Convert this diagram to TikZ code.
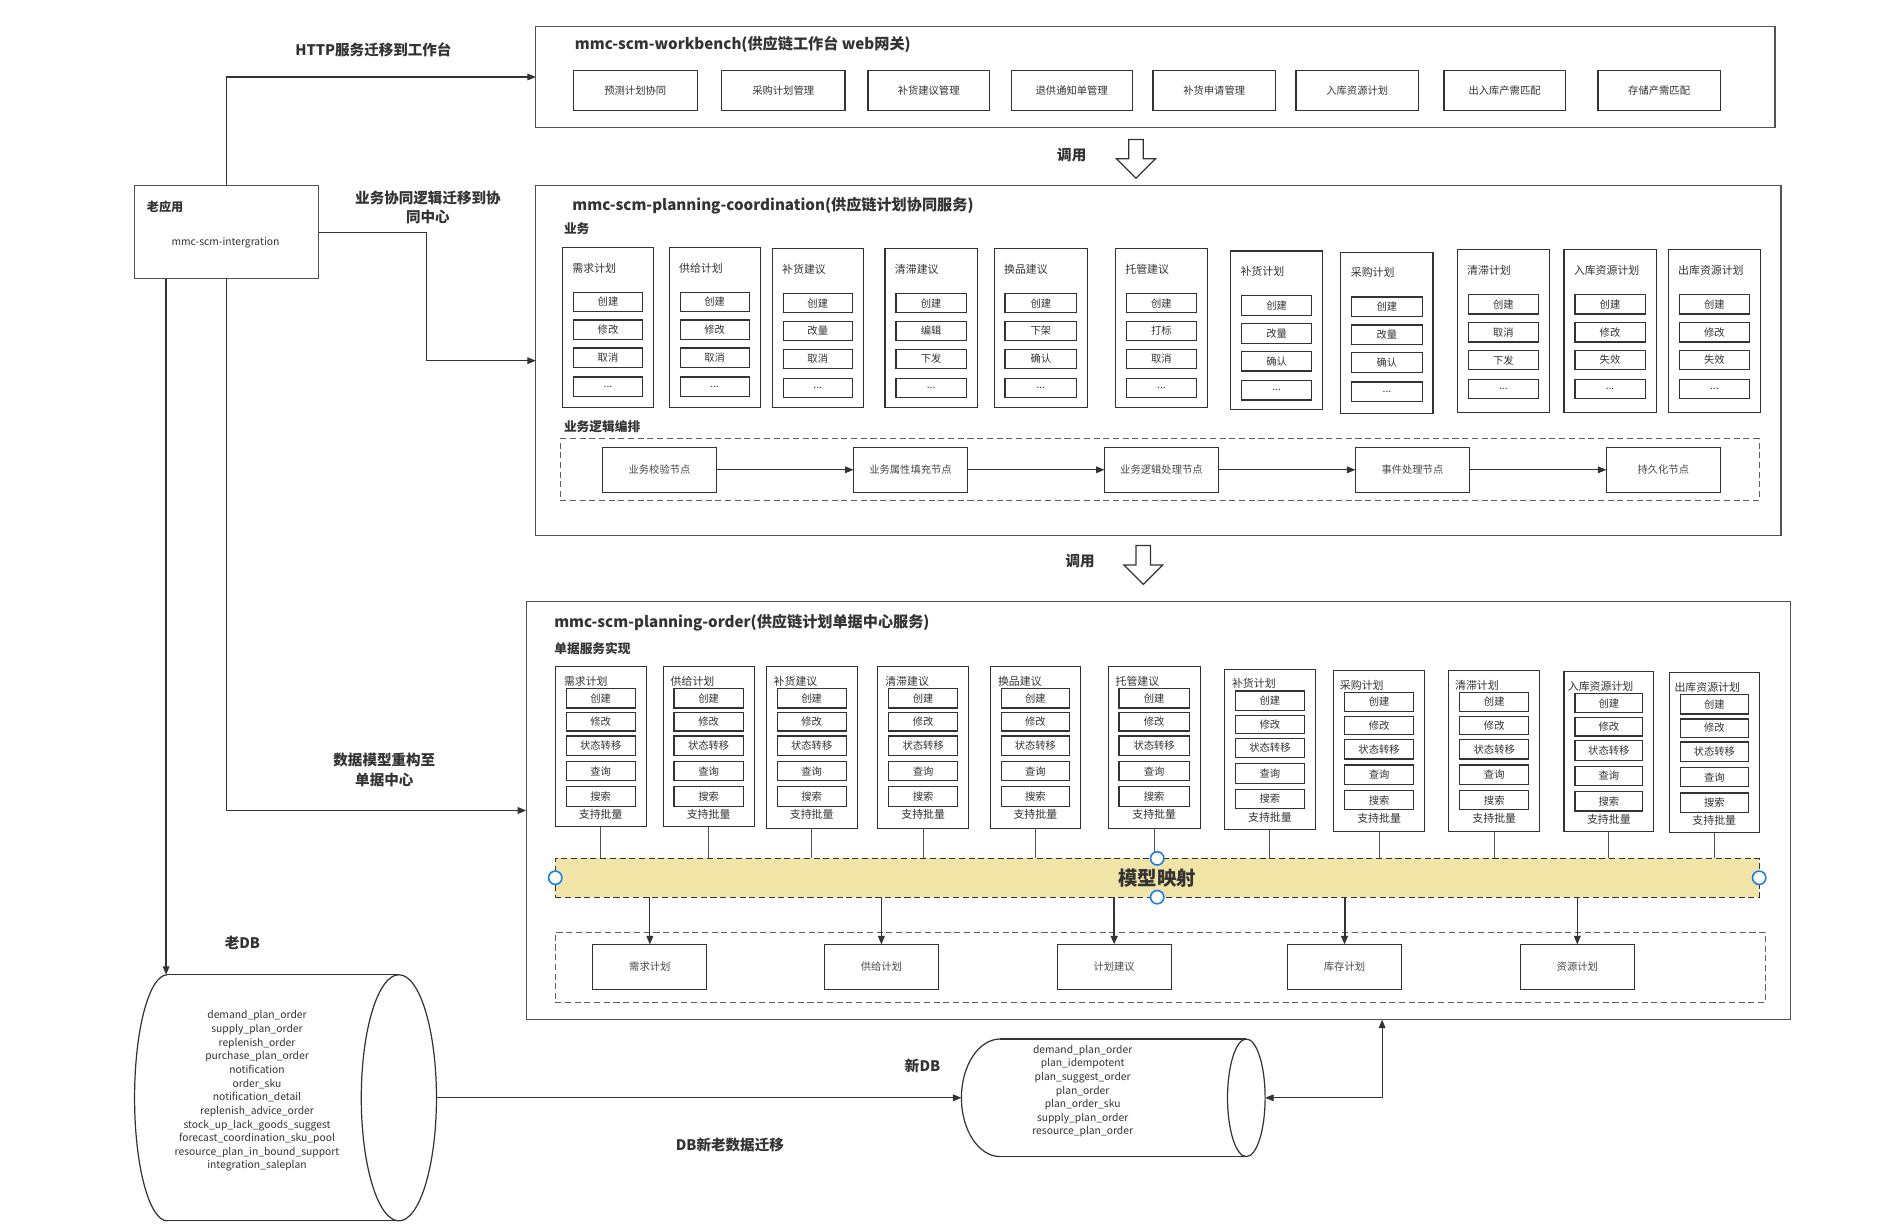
\documentclass[tikz,border=0pt]{standalone}
\usepackage{fontspec}
\setmainfont{Noto Sans CJK SC}
\usetikzlibrary{arrows.meta,calc}
\definecolor{ln}{HTML}{333333}
\definecolor{bandc}{RGB}{240,228,166}
\definecolor{hdl}{HTML}{1A7CF0}
\newcommand\Rect[7][]{\node[#1, minimum width={((#5)-(#3))*1pt}, minimum height={((#6)-(#4))*1pt}] (#2) at ({((#3)+(#5))/2},{((#4)+(#6))/2}) {#7};}
\tikzset{
  arr/.style={draw=ln, line width=1pt, -{Triangle[length=7pt,width=5.5pt]}},
  frame/.style={draw=ln!85, line width=1pt, inner sep=0, outer sep=0},
  colbx/.style={draw=ln, line width=0.9pt, inner sep=0, outer sep=0},
  sbx/.style={draw=ln, line width=1pt, inner sep=0, outer sep=0, font=\fontsize{8.5}{9}\selectfont, text=ln},
  nbx/.style={draw=ln, line width=1pt, inner sep=0, outer sep=0, font=\fontsize{8.5}{10}\selectfont, text=ln!90, fill=white},
  dashbox/.style={draw=ln!80, line width=1pt, dash pattern=on 5pt off 3pt, inner sep=0, outer sep=0},
  ttl/.style={font=\bfseries\fontsize{12.5}{15}\selectfont, text=ln, inner sep=0},
  sect/.style={font=\bfseries\fontsize{10.5}{12}\selectfont, text=ln, inner sep=0},
  coltl/.style={font=\fontsize{9}{10}\selectfont, text=ln, inner sep=0},
  lbl/.style={font=\bfseries\fontsize{12}{16}\selectfont, text=ln, align=center, inner sep=0},
  hollow/.style={draw=ln, line width=1pt, fill=white, line join=miter},
  dbline/.style={draw=ln, line width=1pt},
  dbtxt/.style={font=\fontsize{8.5}{11.25}\selectfont, text=ln, align=center, inner sep=0},
  thin/.style={draw=ln!85, line width=0.8pt},
  handle/.style={draw=hdl, line width=1.3pt, fill=white}
}
\begin{document}
\begin{tikzpicture}[x=1pt,y=-1pt]
\fill[white] (0,0) rectangle (1568,1015);
\useasboundingbox (0,0) rectangle (1568,1015);

% ---------------- workbench ----------------
\Rect[frame]{wb}{442}{22}{1464}{105}{}
\node[ttl, anchor=west] (wbt) at (474,37) {mmc-scm-workbench(供应链工作台 web网关)};
\foreach \i/\xa/\xb/\t in {1/473/575/预测计划协同, 2/595/697/采购计划管理, 3/716/816/补货建议管理, 4/834/934/退供通知单管理, 5/951/1052/补货申请管理, 6/1069/1170/入库资源计划, 7/1191/1291/出入库产需匹配, 8/1318/1419/存储产需匹配}
  {\Rect[sbx]{wb\i}{\xa}{58}{\xb}{91}{\t}}

% ---------------- old app ----------------
\Rect[frame]{oldapp}{111}{153}{263}{230}{}
\node[anchor=west, font=\bfseries\fontsize{10}{12}\selectfont, text=ln, inner sep=0] (oldappt) at (121,171) {老应用};
\node[font=\fontsize{8.5}{10}\selectfont, text=ln, inner sep=0] (oldappn) at (186,200) {mmc-scm-intergration};

% ---------------- labels ----------------
\node[lbl] (l1) at (308,41) {HTTP服务迁移到工作台};
\node[lbl] (l2) at (353,171) {业务协同逻辑迁移到协\\同中心};
\node[lbl] (l3) at (317,635) {数据模型重构至\\单据中心};
\node[lbl] (l4) at (200,778) {老DB};
\node[lbl] (l5) at (761,879) {新DB};
\node[lbl] (l6) at (602,944) {DB新老数据迁移};
\node[lbl] (call1) at (884,128) {调用};
\node[lbl] (call2) at (891,463) {调用};

% hollow arrows
\draw[hollow] (931,115) -- (943,115) -- (943,131) -- (953,131) -- (937,147) -- (921,131) -- (931,131) -- cycle;
\draw[hollow] (937,450) -- (949,450) -- (949,466) -- (959,466) -- (943,482) -- (927,466) -- (937,466) -- cycle;

% ---------------- coordination ----------------
\Rect[frame]{coord}{442}{153}{1469}{442}{}
\node[ttl, anchor=west] (coordt) at (472,170) {mmc-scm-planning-coordination(供应链计划协同服务)};
\node[sect, anchor=west] (coords) at (465,189) {业务};
\foreach \i/\xa/\xb/\ya/\yb/\t/\a/\b/\c in {
  1/464/539/204/336/需求计划/创建/修改/取消,
  2/552/627/204/336/供给计划/创建/修改/取消,
  3/637/712/205/336/补货建议/创建/改量/取消,
  4/730/806/205/336/清滞建议/创建/编辑/下发,
  5/820/897/205/336/换品建议/创建/下架/确认,
  6/920/996/205/336/托管建议/创建/打标/取消,
  7/1015/1091/207/338/补货计划/创建/改量/确认,
  8/1106/1182/208/341/采购计划/创建/改量/确认,
  9/1202/1278/206/340/清滞计划/创建/取消/下发,
  10/1290/1366/206/340/入库资源计划/创建/修改/失效,
  11/1376/1452/206/340/出库资源计划/创建/修改/失效}
{
  \Rect[colbx]{cc\i}{\xa}{\ya}{\xb}{\yb}{}
  \node[coltl, anchor=west] (cct\i) at (\xa+8,\ya+17) {\t};
  \Rect[sbx]{cca\i}{\xa+9}{\ya+37}{\xb-9}{\ya+53}{\a}
  \Rect[sbx]{ccb\i}{\xa+9}{\ya+60}{\xb-9}{\ya+76}{\b}
  \Rect[sbx]{ccc\i}{\xa+9}{\ya+83}{\xb-9}{\ya+99}{\c}
  \Rect[sbx]{ccd\i}{\xa+9}{\ya+107}{\xb-9}{\ya+123}{...}
}
\node[sect, anchor=west] (pipes) at (465,352) {业务逻辑编排};
\Rect[dashbox]{pipe}{462}{362}{1451}{413}{}
\foreach \i/\xa/\t in {1/497/业务校验节点, 2/704/业务属性填充节点, 3/911/业务逻辑处理节点, 4/1118/事件处理节点, 5/1325/持久化节点}
  {\Rect[nbx]{p\i}{\xa}{369}{\xa+94}{406}{\t}}
\foreach \i/\j in {1/2,2/3,3/4,4/5} {\draw[arr] (p\i.east) -- (p\j.west);}

% ---------------- order ----------------
\Rect[frame]{order}{434}{496}{1477}{841}{}
\node[ttl, anchor=west] (ordert) at (457,514) {mmc-scm-planning-order(供应链计划单据中心服务)};
\node[sect, anchor=west] (orders) at (457,535) {单据服务实现};
\Rect[{fill=bandc, draw=ln, line width=1pt, dash pattern=on 5pt off 3pt, inner sep=0, outer sep=0, font=\bfseries\fontsize{16}{18}\selectfont, text=ln}]{band}{458}{708}{1451}{740}{模型映射}
\foreach \i/\xa/\xb/\ya/\yb/\t/\o in {
  1/458/533/550/682/需求计划/7,
  2/547/622/550/682/供给计划/6,
  3/632/707/550/683/补货建议/6,
  4/724/799/550/683/清滞建议/6,
  5/817/891/550/683/换品建议/6,
  6/914/990/550/683/托管建议/6,
  7/1010/1085/552/684/补货计划/6,
  8/1100/1175/553/686/采购计划/5,
  9/1195/1270/553/686/清滞计划/5,
  10/1290/1364/554/686/入库资源计划/3,
  11/1377/1451/555/687/出库资源计划/4}
{
  \Rect[colbx]{oc\i}{\xa}{\ya}{\xb}{\yb}{}
  \node[coltl, anchor=west] (oct\i) at (\xa+\o,\ya+12) {\t};
  \Rect[sbx]{oca\i}{\xa+9}{\ya+18}{\xb-9}{\ya+34}{创建}
  \Rect[sbx]{ocb\i}{\xa+9}{\ya+38}{\xb-9}{\ya+53}{修改}
  \Rect[sbx]{occ\i}{\xa+9}{\ya+57}{\xb-9}{\ya+73}{状态转移}
  \Rect[sbx]{ocd\i}{\xa+9}{\ya+78}{\xb-9}{\ya+94}{查询}
  \Rect[sbx]{oce\i}{\xa+9}{\ya+99}{\xb-9}{\ya+115}{搜索}
  \node[coltl] (ocf\i) at ({(\xa+\xb)/2},\ya+122) {支持批量};
  \draw[thin] (oc\i.south) -- (oc\i.south |- band.north);
}
\Rect[dashbox]{bot}{458}{769}{1456}{827}{}
\foreach \i/\xa/\t in {1/489/需求计划, 2/680/供给计划, 3/872/计划建议, 4/1062/库存计划, 5/1254/资源计划}
  {\Rect[nbx]{b\i}{\xa}{779}{\xa+94}{816}{\t}}
\draw[arr] (band.south -| b1.north) -- (b1.north);
\draw[arr] (band.south -| b2.north) -- (b2.north);
\draw[arr, line width=1.8pt] (band.south -| b3.north) -- (b3.north);
\draw[arr, line width=1.6pt] (band.south -| b4.north) -- (b4.north);
\draw[arr] (band.south -| b5.north) -- (b5.north);
\draw[handle] (band.west) circle[radius=5.5pt];
\draw[handle] (band.east) circle[radius=5.5pt];
\draw[handle] (band.north) circle[radius=5.5pt];
\draw[handle] (band.south) circle[radius=5.5pt];

% ---------------- databases ----------------
\node[minimum width=249pt, minimum height=203pt, inner sep=0, outer sep=0] (olddb) at (235.5,905.5) {};
\draw[dbline] (138,804) -- (329,804);
\draw[dbline] (138,1007) -- (329,1007);
\draw[dbline] (329,905.5) ellipse [x radius=31pt, y radius=101.5pt];
\draw[dbline] (138,1007) arc[start angle=270, end angle=90, x radius=27pt, y radius=101.5pt];
\node[dbtxt] (olddbt) at (212,900) {demand\_plan\_order\\supply\_plan\_order\\replenish\_order\\purchase\_plan\_order\\notification\\order\_sku\\notification\_detail\\replenish\_advice\_order\\stock\_up\_lack\_goods\_suggest\\forecast\_coordination\_sku\_pool\\resource\_plan\_in\_bound\_support\\integration\_saleplan};

\node[minimum width=250.5pt, minimum height=97pt, inner sep=0, outer sep=0] (newdb) at (918.25,905.5) {};
\draw[dbline] (825,857) -- (1028,857);
\draw[dbline] (825,954) -- (1028,954);
\draw[dbline] (1028,905.5) ellipse [x radius=15.5pt, y radius=48.5pt];
\draw[dbline] (825,954) arc[start angle=270, end angle=90, x radius=32pt, y radius=48.5pt];
\node[dbtxt] (newdbt) at (893,900) {demand\_plan\_order\\plan\_idempotent\\plan\_suggest\_order\\plan\_order\\plan\_order\_sku\\supply\_plan\_order\\resource\_plan\_order};

% ---------------- connectors ----------------
\coordinate (olddbtop) at (137,804);
\coordinate (ordx) at (1140,870);
\draw[arr] (oldapp.north) |- (wb.west);
\draw[arr] (oldapp.east) -- ++(89,0) |- (coord.west);
\draw[arr] (oldapp.south) |- (order.west);
\draw[arr] (oldapp.south -| olddbtop) -- (olddbtop);
\draw[arr] (olddb.east) -- (newdb.west);
\draw[arr, {Triangle[length=7pt,width=5.5pt]}-{Triangle[length=7pt,width=5.5pt]}] (order.south -| ordx) |- (newdb.east);
\end{tikzpicture}
\end{document}
